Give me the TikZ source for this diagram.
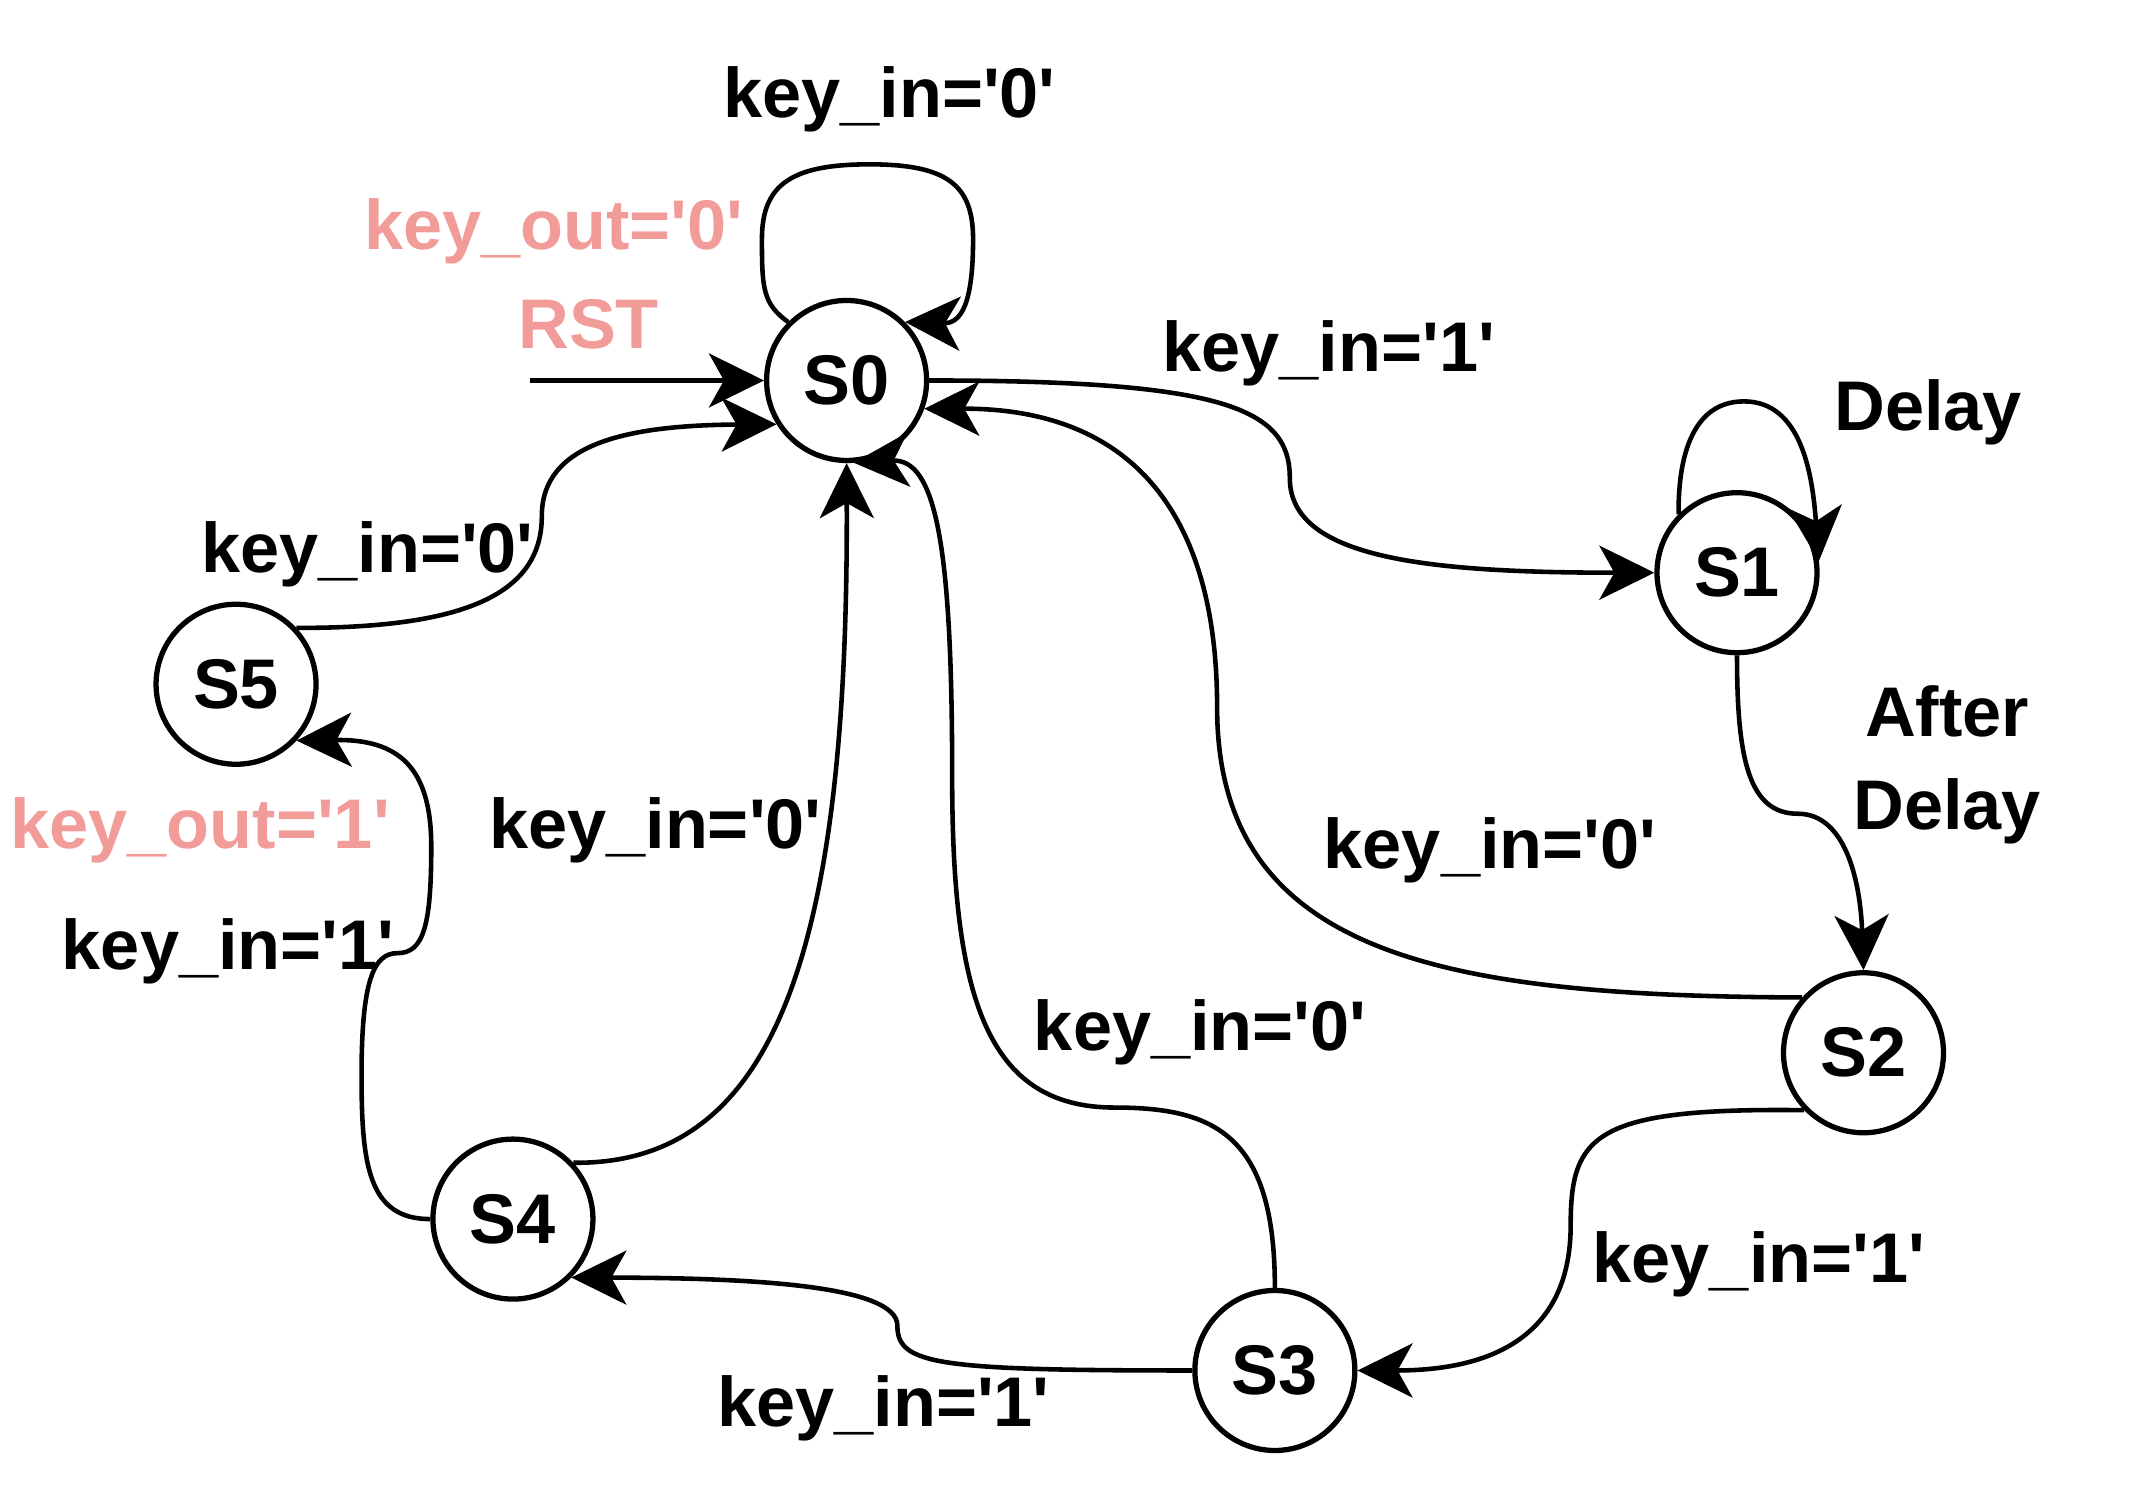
\documentclass[tikz,border=0pt]{standalone}
\usepackage{fontspec}
\setmainfont{Liberation Sans}
\usepackage{tikz}
\usetikzlibrary{arrows.meta}
\definecolor{salmon}{RGB}{241, 156, 153}
\newcommand{\keyin}[1]{key\_in=\textquotesingle#1\textquotesingle}
\newcommand{\keyout}[1]{key\_out=\textquotesingle#1\textquotesingle}
\tikzset{
    state/.style={circle, draw, line width=1.5pt, minimum size=1.60cm, inner sep=0pt,
                  font=\bfseries\fontsize{20}{24}\selectfont},
    lbl/.style={inner sep=0pt, font=\bfseries\fontsize{20}{26.5}\selectfont},
    edge/.style={line width=1.3pt, -{Stealth[length=5.5mm, width=5.4mm, inset=1.5mm]}}
}

\begin{document}
\begin{tikzpicture}[x=0.996cm, y=0.996cm]
            % Frame to fix the page:
            \useasboundingbox                                                 ( 0.00, 0.00) rectangle (21.386,-15.060);
            % States
            \node[state] (s0) at ( 8.50, -3.82) {S0};
            \node[state] (s1) at (17.44, -5.75) {S1};
            \node[state] (s2) at (18.71,-10.57) {S2};
            \node[state] (s3) at (12.80,-13.76) {S3};
            \node[state] (s4) at ( 5.15,-12.24) {S4};
            \node[state] (s5) at ( 2.37, -6.87) {S5};
            % Reset
            \coordinate (rst) at ( 5.32, -3.82);
            \draw[edge] (rst) -- (s0.west);
            \node[lbl, salmon] (out0) at ( 5.56, -2.32) {\keyout{0}};
            \node[lbl, salmon] (rstlbl) at ( 5.91, -3.26) {RST};
            % S0 loop
            \draw[edge] (s0.135) .. controls ( 7.66, -3.05) and ( 7.65, -2.90) .. ( 7.65, -2.40)
                                 .. controls ( 7.65, -1.85) and ( 7.95, -1.65) .. ( 8.73, -1.65)
                                 .. controls ( 9.50, -1.65) and ( 9.77, -1.85) .. ( 9.77, -2.40)
                                 .. controls ( 9.77, -3.05) and ( 9.65, -3.25) .. (s0.45);
            \node[lbl] (l00) at ( 8.93, -1.00) {\keyin{0}};
            % S0 -> S1
            \draw[edge] (s0.east) .. controls (12.29, -3.82) and (12.95, -4.10) .. (12.95, -4.80)
                                  .. controls (12.95, -5.60) and (14.30, -5.75) .. (s1.west);
            \node[lbl] (l01) at (13.34, -3.55) {\keyin{1}};
            % S1 loop
            \draw[edge] (s1.135) .. controls (16.85, -4.80) and (16.90, -4.03) .. (17.51, -4.03)
                                 .. controls (18.10, -4.03) and (18.20, -4.80) .. (s1.8);
            \node[lbl] (l11) at (19.36, -4.14) {Delay};
            % S1 -> S2
            \draw[edge] (s1.south) .. controls (17.44, -7.60) and (17.55, -8.17) .. (18.05, -8.17)
                                   .. controls (18.55, -8.17) and (18.68, -8.90) .. (s2.north);
            \node[lbl, align=center] (l12) at (19.55, -7.68) {After\\Delay};
            % S2 -> S0
            \draw[edge] (s2.138) .. controls (14.50,-10.00) and (12.22, -9.60) .. (12.22, -7.10)
                                 .. controls (12.22, -5.20) and (11.40, -4.10) .. (s0.-20);
            \node[lbl] (l20) at (14.96, -8.54) {\keyin{0}};
            % S2 -> S3
            \draw[edge] (s2.224) .. controls (16.00,-11.12) and (15.77,-11.40) .. (15.77,-12.30)
                                 .. controls (15.77,-13.40) and (15.00,-13.76) .. (s3.east);
            \node[lbl] (l23) at (17.66,-12.69) {\keyin{1}};
            % S3 -> S0
            \draw[edge] (s3.north) .. controls (12.80,-11.40) and (12.20,-11.12) .. (11.19,-11.12)
                                   .. controls ( 9.90,-11.12) and ( 9.56,-10.00) .. ( 9.56, -7.80)
                                   .. controls ( 9.56, -5.50) and ( 9.40, -4.60) .. (s0.-85);
            \node[lbl] (l30) at (12.05,-10.36) {\keyin{0}};
            % S3 -> S4
            \draw[edge] (s3.west) .. controls ( 9.40,-13.76) and ( 9.01,-13.70) .. ( 9.01,-13.31)
                                  .. controls ( 9.01,-12.90) and ( 7.50,-12.83) .. (s4.-45);
            \node[lbl] (l34) at ( 8.87,-14.14) {\keyin{1}};
            % S4 -> S0
            \draw[edge] (s4.43) .. controls ( 7.80,-11.70) and ( 8.52, -9.50) .. (s0.south);
            \node[lbl] (l40) at ( 6.58, -8.34) {\keyin{0}};
            % S4 -> S5
            \draw[edge] (s4.west) .. controls ( 3.70,-12.24) and ( 3.63,-11.70) .. ( 3.63,-10.80)
                                  .. controls ( 3.63, -9.85) and ( 3.75, -9.57) .. ( 3.99, -9.57)
                                  .. controls ( 4.25, -9.57) and ( 4.33, -9.30) .. ( 4.33, -8.50)
                                  .. controls ( 4.33, -7.70) and ( 4.00, -7.42) .. (s5.-43);
            \node[lbl, salmon] (out1) at ( 2.01, -8.34) {\keyout{1}};
            \node[lbl] (l45) at ( 2.29, -9.55) {\keyin{1}};
            % S5 -> S0
            \draw[edge] (s5.43) .. controls ( 4.70, -6.31) and ( 5.44, -5.95) .. ( 5.44, -5.18)
                                .. controls ( 5.44, -4.45) and ( 6.30, -4.27) .. (s0.212);
            \node[lbl] (l50) at ( 3.69, -5.57) {\keyin{0}};
\end{tikzpicture}
\end{document}
